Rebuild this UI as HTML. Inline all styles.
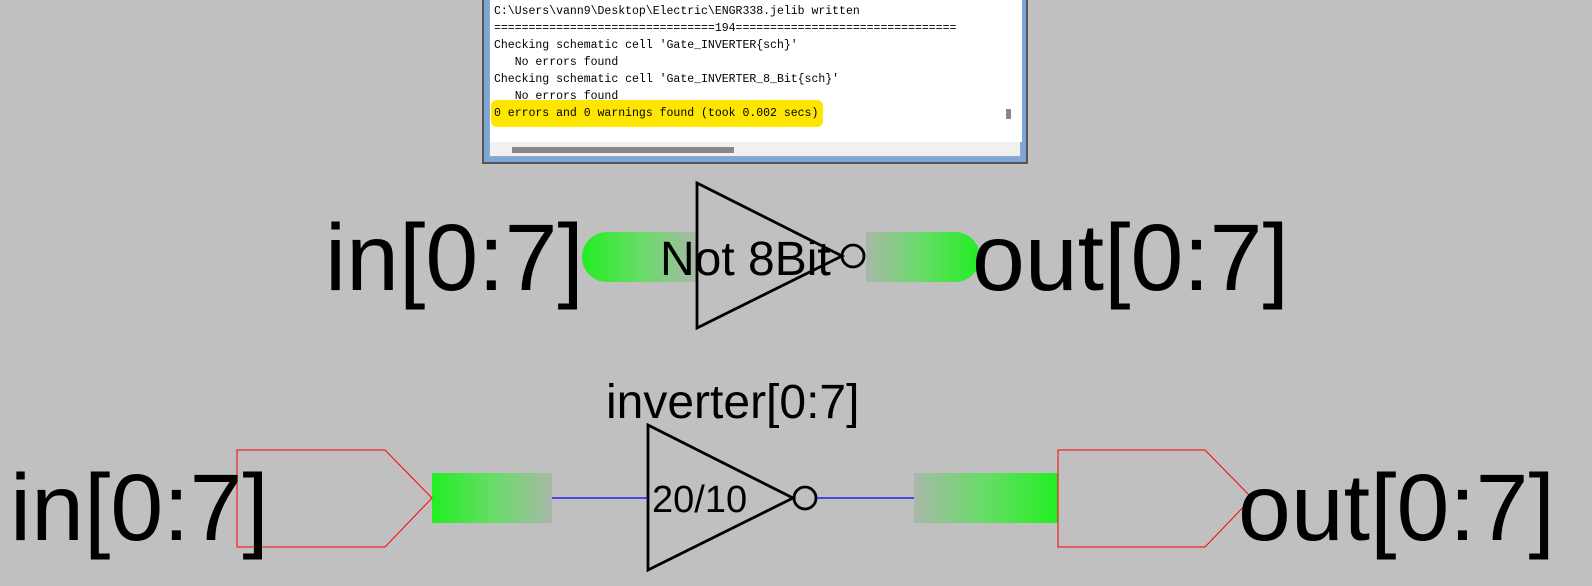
<!DOCTYPE html>
<html><head><meta charset="utf-8"><style>
body{margin:0;width:1592px;height:586px;background:#c0c0c0;overflow:hidden;position:relative;font-family:"Liberation Sans",sans-serif}
.con{position:absolute;left:482px;top:-2px;width:546px;height:166px;border:2px solid #555;border-top:none;background:#7aa7d6;box-sizing:border-box}
.in{position:absolute;left:5px;top:0;right:5px;bottom:5px;background:#f0f0f0;border:1px solid #9ab}
.wh{position:absolute;left:0;top:0;width:532px;height:143px;background:#fff}
.t{position:absolute;left:4px;font:11.5px "Liberation Mono",monospace;color:#000;white-space:pre}
</style></head><body>
<div class="con"><div class="in"><div class="wh"></div>
<div style="position:absolute;left:1px;top:101px;width:332px;height:27px;background:#ffe600;border-radius:6px"></div>
<div class="t" style="top:6px">C:\Users\vann9\Desktop\Electric\ENGR338.jelib written</div>
<div class="t" style="top:23px">================================194================================</div>
<div class="t" style="top:40px">Checking schematic cell 'Gate_INVERTER{sch}'</div>
<div class="t" style="top:57px">   No errors found</div>
<div class="t" style="top:74px">Checking schematic cell 'Gate_INVERTER_8_Bit{sch}'</div>
<div class="t" style="top:91px">   No errors found</div>
<div class="t" style="top:108px">0 errors and 0 warnings found (took 0.002 secs)</div>
<div style="position:absolute;left:516px;top:110px;width:5px;height:10px;background:#888"></div>
<div style="position:absolute;left:22px;top:148px;width:222px;height:6px;background:#888"></div>
</div></div>
<svg width="1592" height="586" style="position:absolute;left:0;top:0">
<defs>
<linearGradient id="gl" x1="0" x2="1"><stop offset="0" stop-color="#22ee22"/><stop offset="0.5" stop-color="#66dd66"/><stop offset="1" stop-color="#a8b8a8"/></linearGradient>
<linearGradient id="gr" x1="0" x2="1"><stop offset="0" stop-color="#a8b8a8"/><stop offset="0.5" stop-color="#66dd66"/><stop offset="1" stop-color="#22ee22"/></linearGradient>
</defs>
<path d="M607 232 H697 V282 H607 A25 25 0 0 1 607 232Z" fill="url(#gl)"/>
<path d="M866 232 H955 A25 25 0 0 1 955 282 H866Z" fill="url(#gr)"/>
<g stroke="#000" stroke-width="2.8" fill="none">
<path d="M697 183 V328 L842 256 Z"/><circle cx="853" cy="256" r="11"/>
<path d="M648 425 V570 L793 498 Z"/><circle cx="805" cy="498" r="11"/>
</g>
<rect x="432" y="473" width="120" height="50" fill="url(#gl)"/>
<rect x="914" y="473" width="144" height="50" fill="url(#gr)"/>
<path d="M552 498 H648 M817 498 H914" stroke="#0000ff" stroke-width="1.2"/>
<path d="M237 450 H385 L432 498 L385 547 H237 Z M1058 450 H1205 L1252 498 L1205 547 H1058 Z" stroke="#ff0000" stroke-width="1" fill="none"/>
<g font-family="Liberation Sans, sans-serif" fill="#000">
<text x="325" y="290" font-size="95">in[0:7]</text>
<text x="972" y="290" font-size="95">out[0:7]</text>
<text x="660" y="275" font-size="48">Not 8Bit</text>
<text x="10" y="540" font-size="95">in[0:7]</text>
<text x="1238" y="540" font-size="95">out[0:7]</text>
<text x="606" y="418" font-size="48">inverter[0:7]</text>
<text x="652" y="512" font-size="38">20/10</text>
</g>
</svg>
</body></html>
